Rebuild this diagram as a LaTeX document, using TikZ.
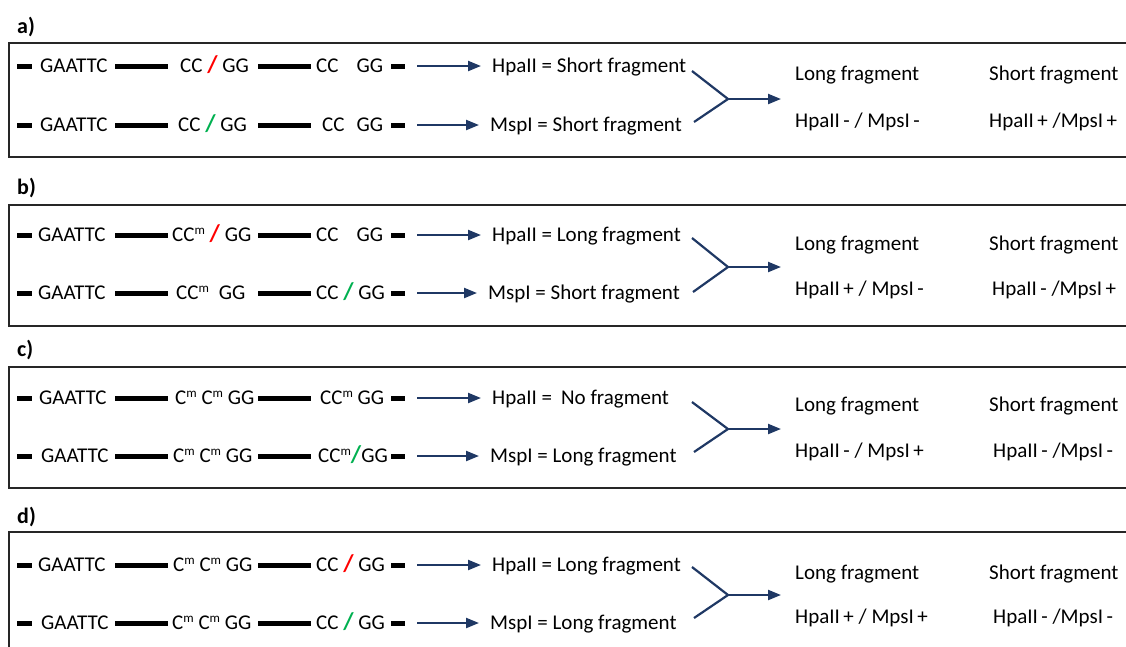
\documentclass[tikz,border=0pt]{standalone}
\usepackage{fontspec}
\setmainfont{Carlito}
\usetikzlibrary{arrows.meta}
\definecolor{navy}{HTML}{1F3864}
\definecolor{cutred}{HTML}{FF0000}
\definecolor{cutgreen}{HTML}{00B050}
\newcommand{\meth}{\raisebox{7pt}{\fontsize{13}{13}\selectfont m}}
\newcommand{\cutr}{{\fontsize{24}{24}\bfseries\color{cutred}/}}
\newcommand{\cutg}{{\fontsize{24}{24}\bfseries\color{cutgreen}/}}
\tikzset{
  seq/.style={anchor=west, inner sep=0pt, text height=13.5pt, text depth=0pt, font=\fontsize{21}{25}\selectfont},
  tag/.style={anchor=west, inner sep=0pt, font=\fontsize{22}{26}\selectfont\bfseries},
  frame/.style={draw=black!85, line width=2pt},
  bar/.style={line width=5pt},
  vline/.style={draw=navy, line width=2.2pt},
  link/.style={vline, -{Triangle[length=13pt,width=10pt]}},
}
\begin{document}
\begin{tikzpicture}[x=1pt, y=-1pt]
\useasboundingbox (0,0) rectangle (1126,646);

% DNA bars, the same in every row
\foreach \y/\r in {66/a1, 125/a2, 235/b1, 293/b2, 398/c1, 456/c2, 565/d1, 623/d2} {
  \draw[bar] (17,\y) -- (32,\y) (115,\y) -- (168,\y) (258,\y) -- (311,\y) (391,\y) -- (405,\y);
  \coordinate (\r go) at (417,\y);
}

% a)
\node[tag] (alab) at (17,27) {a)};
\draw[frame] (9,43) rectangle (1140,157);
\node[seq] (a1eco) at (40,66) {GAATTC};
\node[seq] (a1mid) at (180,66) {CC \cutr{} GG};
\node[seq] (a1end) at (316,66) {CC\hspace{18pt}GG};
\node[seq] (a1enz) at (492,66) {HpaII = Short fragment};
\node[seq] (a2eco) at (40,125) {GAATTC};
\node[seq] (a2mid) at (178,125) {CC \cutg{} GG};
\node[seq] (a2end) at (322,125) {CC\hspace{12pt}GG};
\node[seq] (a2enz) at (490,125) {MspI = Short fragment};
\node[seq] (along) at (795,74) {Long fragment};
\node[seq] (ashort) at (989,74) {Short fragment};
\node[seq] (alongcut) at (795,121) {HpaII\,- / MpsI\,-};
\node[seq] (ashortcut) at (989,121) {HpaII\,+ /MpsI\,+};
\coordinate (atop) at (692,71);
\coordinate (abot) at (694,122);
\coordinate (ajoin) at (728,99);
\coordinate (aout) at (781,99);

% b)
\node[tag] (blab) at (17,188) {b)};
\draw[frame] (9,205) rectangle (1140,326);
\node[seq] (b1eco) at (38,235) {GAATTC};
\node[seq] (b1mid) at (172,235) {CC\meth{} \cutr{} GG};
\node[seq] (b1end) at (316,235) {CC\hspace{18pt}GG};
\node[seq] (b1enz) at (492,235) {HpaII = Long fragment};
\node[seq] (b2eco) at (38,293) {GAATTC};
\node[seq] (b2mid) at (176,293) {CC\meth\hspace{10pt}GG};
\node[seq] (b2end) at (316,293) {CC \cutg{} GG};
\node[seq] (b2enz) at (488,293) {MspI = Short fragment};
\node[seq] (blong) at (795,244) {Long fragment};
\node[seq] (bshort) at (989,244) {Short fragment};
\node[seq] (blongcut) at (795,289) {HpaII\,+ / MpsI\,-};
\node[seq] (bshortcut) at (992,289) {HpaII\,- /MpsI\,+};
\coordinate (btop) at (692,238);
\coordinate (bbot) at (693,292);
\coordinate (bjoin) at (728,267);
\coordinate (bout) at (781,267);

% c)
\node[tag] (clab) at (17,350) {c)};
\draw[frame] (9,367) rectangle (1140,488);
\node[seq] (c1eco) at (39,398) {GAATTC};
\node[seq] (c1mid) at (175,398) {C\meth{} C\meth{} GG};
\node[seq] (c1end) at (320,398) {CC\meth{} GG};
\node[seq] (c1enz) at (492,398) {HpaII =\hspace{9pt}No fragment};
\node[seq] (c2eco) at (41,456) {GAATTC};
\node[seq] (c2mid) at (173,456) {C\meth{} C\meth{} GG};
\node[seq] (c2end) at (318,456) {CC\meth\cutg{}GG};
\node[seq] (c2enz) at (490,456) {MspI = Long fragment};
\node[seq] (clong) at (795,405) {Long fragment};
\node[seq] (cshort) at (989,405) {Short fragment};
\node[seq] (clongcut) at (795,451) {HpaII\,- / MpsI\,+};
\node[seq] (cshortcut) at (993,451) {HpaII\,- /MpsI\,-};
\coordinate (ctop) at (692,402);
\coordinate (cbot) at (694,452);
\coordinate (cjoin) at (728,429);
\coordinate (cout) at (781,429);

% d)
\node[tag] (dlab) at (17,517) {d)};
\draw[frame] (9,532) rectangle (1140,670);
\node[seq] (d1eco) at (38,565) {GAATTC};
\node[seq] (d1mid) at (173,565) {C\meth{} C\meth{} GG};
\node[seq] (d1end) at (316,565) {CC \cutr{} GG};
\node[seq] (d1enz) at (492,565) {HpaII = Long fragment};
\node[seq] (d2eco) at (41,623) {GAATTC};
\node[seq] (d2mid) at (172,623) {C\meth{} C\meth{} GG};
\node[seq] (d2end) at (316,623) {CC \cutg{} GG};
\node[seq] (d2enz) at (490,623) {MspI = Long fragment};
\node[seq] (dlong) at (795,573) {Long fragment};
\node[seq] (dshort) at (989,573) {Short fragment};
\node[seq] (dlongcut) at (795,617) {HpaII\,+ / MpsI\,+};
\node[seq] (dshortcut) at (993,617) {HpaII\,- /MpsI\,-};
\coordinate (dtop) at (692,567);
\coordinate (dbot) at (694,618);
\coordinate (djoin) at (728,595);
\coordinate (dout) at (781,595);

% arrows
\foreach \r in {a1, a2, b1, b2, c1, c2, d1, d2}
  \draw[link, shorten >=11pt] (\r go) -- (\r enz);
\foreach \p in {a, b, c, d} {
  \draw[vline] (\p top) -- (\p join) -- (\p bot);
  \draw[link] (\p join) -- (\p out);
}
\end{tikzpicture}
\end{document}
